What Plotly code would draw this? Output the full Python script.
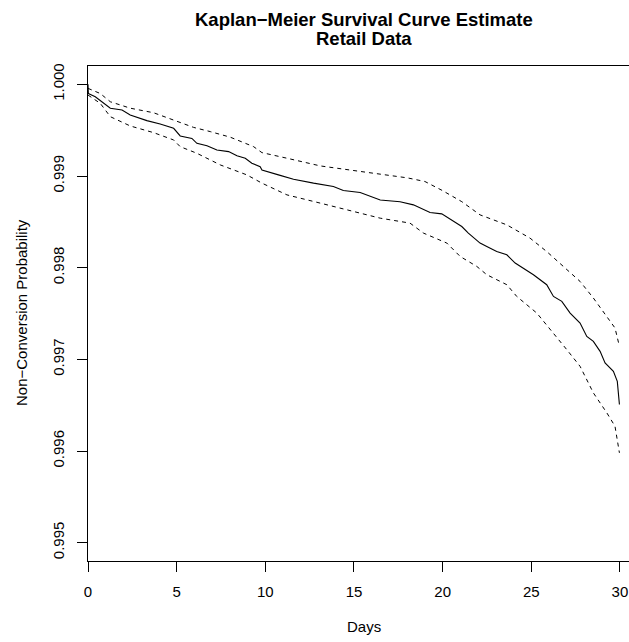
import plotly.graph_objects as go

# Kaplan-Meier estimate
days = [0, 0.02, 0.41, 1.26, 1.92, 2.38, 3.32, 4.07, 4.83, 5.2, 5.86, 6.14, 6.71, 7.27, 7.93, 8.4,
        8.87, 9.24, 9.71, 9.81, 10.74, 11.59, 12.72, 13.84, 14.4, 15.35, 16.48, 17.6, 18.35, 19.29,
        19.95, 21.08, 21.45, 22.11, 22.49, 23.05, 23.62, 24.09, 25.12, 25.87, 26.25, 26.72, 27.19,
        27.75, 28.13, 28.5, 28.88, 29.16, 29.63, 29.85, 29.97]
surv = [1.0, 0.99990, 0.999865, 0.99974, 0.99972, 0.999666, 0.999604, 0.999567, 0.99952, 0.999437,
        0.99941, 0.999357, 0.99933, 0.999284, 0.999266, 0.99922, 0.999194, 0.99914, 0.999102, 0.999066,
        0.999012, 0.998965, 0.998922, 0.998885, 0.998841, 0.99882, 0.998738, 0.99872, 0.998685,
        0.998601, 0.998587, 0.998449, 0.998377, 0.998268, 0.998231, 0.998176, 0.99814, 0.99805,
        0.997923, 0.997814, 0.997686, 0.997632, 0.997505, 0.997396, 0.99725, 0.997196, 0.997087,
        0.99696, 0.996869, 0.99676, 0.996507]

upper_days = [0, 0.69, 1.26, 2.38, 3.7, 4.83, 5.96, 6.9, 8.03, 9.34, 9.81, 11.22, 13.1, 15.35,
              16.5, 18.0, 19.0, 20.0, 21.08, 22.11, 23.62, 24.93, 25.87, 26.81, 27.75, 28.5,
              29.26, 29.72, 29.97]
upper = [0.999956, 0.99990, 0.99981, 0.99974, 0.99969, 0.99961, 0.99953, 0.999484, 0.999423,
         0.99932, 0.999255, 0.999194, 0.99911, 0.99905, 0.99902, 0.99898, 0.99894, 0.99884,
         0.99872, 0.998576, 0.998467, 0.998322, 0.998176, 0.998013, 0.99785, 0.997669,
         0.997468, 0.997342, 0.997142]

lower_days = [0, 0.69, 1.26, 2.38, 3.7, 4.83, 5.2, 6.14, 7.46, 8.96, 9.81, 11.22, 13.1, 15.35,
              16.48, 18.16, 18.92, 20.24, 20.99, 21.93, 22.49, 23.62, 24.18, 25.31, 26.25, 27.0,
              27.75, 28.5, 29.26, 29.72, 29.97]
lower = [0.999883, 0.999793, 0.999647, 0.999546, 0.999473, 0.999393, 0.99932, 0.999248, 0.999121,
         0.999012, 0.998922, 0.998794, 0.998704, 0.998595, 0.99854, 0.998486, 0.998377, 0.998268,
         0.998122, 0.998013, 0.997923, 0.997814, 0.997686, 0.997505, 0.997288, 0.997106,
         0.996924, 0.996634, 0.996416, 0.99627, 0.99598]

x_ticks = [0, 5, 10, 15, 20, 25, 30]
y_ticks = [0.995, 0.996, 0.997, 0.998, 0.999, 1.000]
y_tick_text = ["0.995", "0.996", "0.997", "0.998", "0.999", "1.000"]

FONT = "Liberation Sans, Arial, Helvetica, sans-serif"

fig = go.Figure()
fig.add_trace(go.Scatter(x=upper_days, y=upper, mode="lines",
                         line=dict(color="black", width=1, dash="4px,4px")))
fig.add_trace(go.Scatter(x=lower_days, y=lower, mode="lines",
                         line=dict(color="black", width=1, dash="4px,4px")))
fig.add_trace(go.Scatter(x=days, y=surv, mode="lines",
                         line=dict(color="black", width=1.1)))

L, T, B = 88, 66, 81
W, H = 629, 642
pw, ph = W - L, H - T - B

def px(xp):
    return (xp - L) / pw

def py(yp):
    return (H - B - yp) / ph

fig.update_layout(
    width=W, height=H,
    margin=dict(l=L, r=0, t=T, b=B, pad=0),
    paper_bgcolor="white", plot_bgcolor="white",
    showlegend=False,
    font=dict(family=FONT, size=15, color="black"),
    xaxis=dict(range=[0, 30.51], tickvals=x_ticks, ticktext=[str(v) for v in x_ticks],
               showgrid=False, zeroline=False, showline=True, linecolor="black",
               linewidth=1, mirror=True, ticks="outside", ticklen=10, tickcolor="black",
               tickwidth=1, ticklabelstandoff=7, tickfont=dict(size=15)),
    yaxis=dict(range=[0.9948, 1.0002], tickvals=y_ticks, ticktext=y_tick_text,
               showgrid=False, zeroline=False, showline=True, linecolor="black",
               linewidth=1, ticks="outside", ticklen=10, tickcolor="black", tickwidth=1,
               tickangle=-90, ticklabelstandoff=7, tickfont=dict(size=15)),
    annotations=[
        dict(text="<b>Kaplan\u2212Meier Survival Curve Estimate</b>", x=px(364), y=py(19),
             xref="paper", yref="paper", showarrow=False, xanchor="center", yanchor="middle",
             font=dict(size=18.5)),
        dict(text="<b>Retail Data</b>", x=px(364), y=py(38),
             xref="paper", yref="paper", showarrow=False, xanchor="center", yanchor="middle",
             font=dict(size=18.5)),
        dict(text="Days", x=px(364), y=py(626), xref="paper", yref="paper",
             showarrow=False, xanchor="center", yanchor="middle", font=dict(size=15)),
        dict(text="Non\u2212Conversion Probability", x=px(21), y=py(313), xref="paper",
             yref="paper", showarrow=False, xanchor="center", yanchor="middle",
             textangle=-90, font=dict(size=15)),
    ],
)

fig.write_html("out.html")
